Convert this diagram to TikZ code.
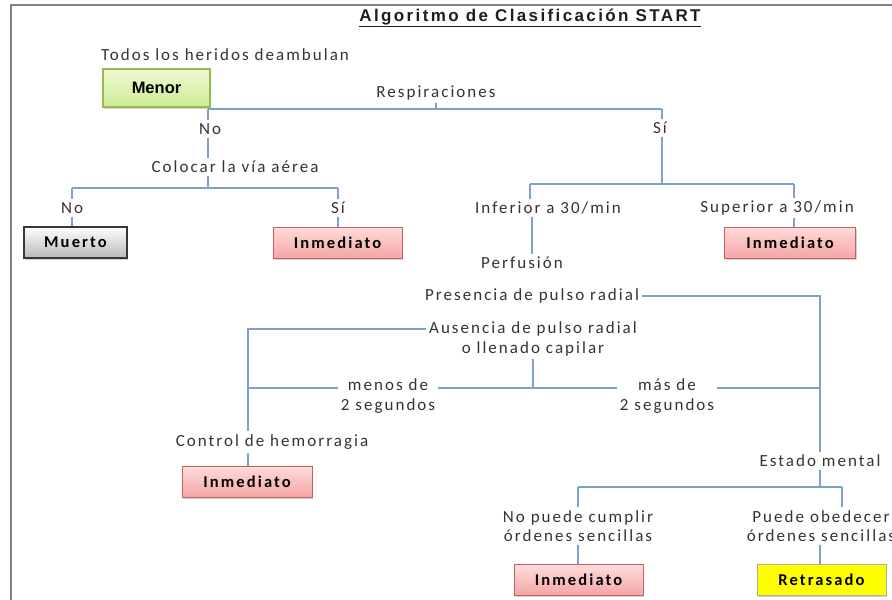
\documentclass[tikz,border=0pt]{standalone}
\usepackage{fontspec}
\usetikzlibrary{shadows}
\newfontfamily\lblfont[LetterSpace=12]{Carlito}
\newfontfamily\boxfont[LetterSpace=13]{Carlito}
\newfontfamily\ttlfont[LetterSpace=14]{Liberation Sans}
\newfontfamily\menfont{Liberation Sans}
\definecolor{lineblue}{RGB}{125,160,210}
\definecolor{txtgray}{RGB}{55,50,50}
\definecolor{framegray}{RGB}{130,130,130}
\definecolor{pinktop}{RGB}{255,220,220}
\definecolor{pinkbot}{RGB}{245,165,165}
\definecolor{pinkedge}{RGB}{200,95,95}
\definecolor{greentop}{RGB}{238,250,210}
\definecolor{greenbot}{RGB}{205,235,150}
\definecolor{greenedge}{RGB}{150,185,85}
\definecolor{graybot}{RGB}{185,185,185}
\definecolor{grayedge}{RGB}{55,55,55}
\definecolor{yelfill}{RGB}{255,255,0}
\definecolor{yeledge}{RGB}{175,175,150}
\begin{document}
\begin{tikzpicture}[x=1pt,y=-1pt,
  lbl/.style={font=\lblfont\fontsize{17}{19.5}\selectfont, text=txtgray, inner sep=3pt, align=center},
  conn/.style={draw=lineblue, line width=1.6pt},
  boxbase/.style={minimum height=31pt, inner sep=0pt, text=black,
    font=\boxfont\bfseries\fontsize{16.5}{18}\selectfont,
    drop shadow={shadow xshift=1.2pt, shadow yshift=-1.6pt, opacity=0.35}},
  inmbox/.style={boxbase, minimum width=129pt, top color=pinktop, bottom color=pinkbot, draw=pinkedge, line width=1pt},
  deadbox/.style={boxbase, minimum width=103pt, top color=white, bottom color=graybot, draw=grayedge, line width=1.6pt},
  minorbox/.style={boxbase, minimum width=107pt, minimum height=38pt, top color=greentop, bottom color=greenbot, draw=greenedge, line width=1.2pt, font=\menfont\bfseries\fontsize{16.5}{18}\selectfont},
  delaybox/.style={boxbase, minimum width=129pt, fill=yelfill, draw=yeledge, line width=1pt}
]
\useasboundingbox (0,0) rectangle (892,600);
% frame
\draw[framegray, line width=2.5pt] (11,600) -- (11,5) -- (892,5);

% title
\node[font=\ttlfont\bfseries\fontsize{17}{19}\selectfont, text={rgb,255:red,30;green,30;blue,30}] (title) at (530,18) {\underline{Algoritmo de Clasificación START}};

% labels
\node[lbl] (todos) at (225,55) {Todos los heridos deambulan};
\node[minorbox] (menor) at (156.5,88) {Menor};
\node[lbl] (resp) at (436,93) {Respiraciones};
\node[lbl] (no1) at (210,129) {No};
\node[lbl] (si1) at (660,128) {Sí};
\node[lbl] (colocar) at (235,167) {Colocar la vía aérea};
\node[lbl] (no2) at (72,208) {No};
\node[lbl] (si2) at (338,208) {Sí};
\node[deadbox] (muerto) at (75.5,242.5) {Muerto};
\node[inmbox] (inm1) at (337.5,242.5) {Inmediato};
\node[lbl] (inf) at (548,208) {Inferior a 30/min};
\node[lbl] (sup) at (777,208) {Superior a 30/min};
\node[inmbox, minimum width=131pt] (inm2) at (790,242.5) {Inmediato};
\node[lbl] (perf) at (522,263) {Perfusión};
\node[lbl] (pres) at (532,296) {Presencia de pulso radial};
\node[lbl] (aus) at (533,339) {Ausencia de pulso radial\\o llenado capilar};
\node[lbl] (menos) at (388,396) {menos de\\2 segundos};
\node[lbl] (mas) at (667,396) {más de\\2 segundos};
\node[lbl] (control) at (272,442) {Control de hemorragia};
\node[inmbox, minimum width=130pt] (inm3) at (247,481.5) {Inmediato};
\node[lbl] (estado) at (820,461) {Estado mental};
\node[lbl] (nopuede) at (578,526) {No puede cumplir\\órdenes sencillas};
\node[lbl] (puede) at (821,526) {Puede obedecer\\órdenes sencillas};
\node[inmbox] (inm4) at (578.5,580) {Inmediato};
\node[delaybox] (retr) at (821.5,580) {Retrasado};

% junction coordinates
\coordinate (jA) at (208,109);
\coordinate (jB) at (662,109);
\coordinate (jC) at (72,188);
\coordinate (jD) at (338,188);
\coordinate (jE) at (530,184);
\coordinate (jF) at (794,184);
\coordinate (pf) at (532,0);
\coordinate (jG) at (820,296);
\coordinate (jH) at (248,329);
\coordinate (jI) at (248,388);
\coordinate (jJ) at (578,487);
\coordinate (jK) at (842,487);

% connectors
\draw[conn] (jA) -- (jB);
\draw[conn] (resp.south) -- (resp.south |- jA);
\draw[conn] (jA) -- (jA |- no1.north);
\draw[conn] (jB) -- (jB |- si1.north);
\draw[conn] (jA |- no1.south) -- (jA |- colocar.north);
\draw[conn] (jA |- colocar.south) -- (jA |- jC);
\draw[conn] (jC) -- (jD);
\draw[conn] (jC) -- (jC |- no2.north);
\draw[conn] (jC |- no2.south) -- (jC |- muerto.north);
\draw[conn] (jD) -- (jD |- si2.north);
\draw[conn] (jD |- si2.south) -- (jD |- inm1.north);
\draw[conn] (jB |- si1.south) -- (jB |- jE);
\draw[conn] (jE) -- (jF);
\draw[conn] (jE) -- (jE |- inf.north);
\draw[conn] (inf.south -| pf) -- (perf.north -| pf);
\draw[conn] (jF) -- (jF |- sup.north);
\draw[conn] (jF |- sup.south) -- (jF |- inm2.north);
\draw[conn] (pres.east) -- (jG) -- (jG |- estado.north);
\draw[conn] (jH -| aus.west) -- (jH) -- (jH |- control.north);
\draw[conn] (jH |- control.south) -- (jH |- inm3.north);
\draw[conn] (aus.south) -- (aus.south |- jI);
\draw[conn] (jI) -- (jI -| menos.west);
\draw[conn] (jI -| menos.east) -- (jI -| mas.west);
\draw[conn] (jI -| mas.east) -- (jI -| jG);
\draw[conn] (jG |- estado.south) -- (jG |- jJ);
\draw[conn] (jJ) -- (jK);
\draw[conn] (jJ) -- (jJ |- nopuede.north);
\draw[conn] (jJ |- nopuede.south) -- (jJ |- inm4.north);
\draw[conn] (jK) -- (jK |- puede.north);
\draw[conn] (jG |- puede.south) -- (jG |- retr.north);
\end{tikzpicture}
\end{document}
